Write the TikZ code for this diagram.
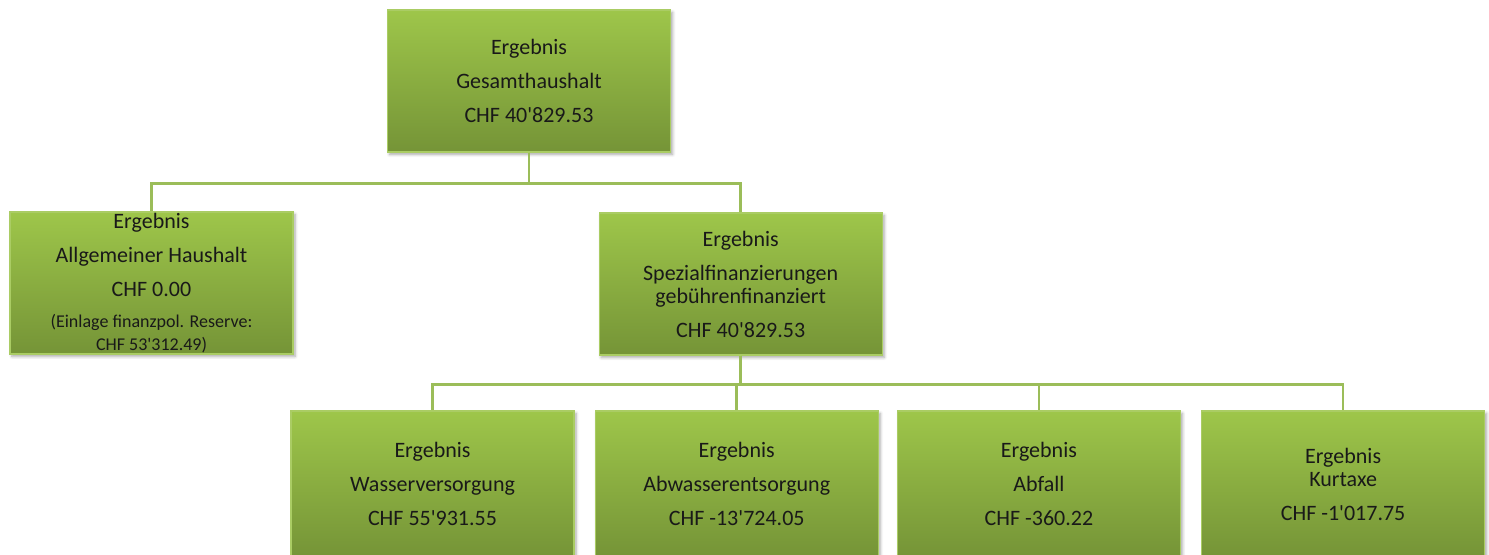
\documentclass[tikz,border=0pt]{standalone}
\usepackage{fontspec}
\setmainfont{Carlito}[Ligatures=TeXOff]
\usetikzlibrary{positioning, shadows.blur, calc}
\definecolor{boxTop}{RGB}{158, 198, 74}
\definecolor{boxBottom}{RGB}{117, 148, 55}
\definecolor{boxEdge}{RGB}{170, 204, 100}
\definecolor{linkGreen}{RGB}{155, 189, 89}
\definecolor{textDark}{RGB}{25, 25, 25}
\tikzset{
    % Base style for all result boxes
    result/.style={
        rectangle,
        minimum width=141.5pt,
        minimum height=71pt,
        inner sep=0pt,
        align=center,
        font=\fontsize{11pt}{11.5pt}\selectfont,
        text=textDark,
        top color=boxTop,
        bottom color=boxBottom,
        draw=boxEdge,
        line width=0.6pt,
        blur shadow={shadow blur steps=5, shadow xshift=1pt, shadow yshift=-1.2pt, shadow blur radius=1.5pt, shadow opacity=35}
    },
    % Bottom row runs off the page
    resultLow/.style={result, minimum height=73pt},
    % Connector style
    link/.style={draw=linkGreen, line width=1.3pt}
}
\newcommand{\smalltext}{\fontsize{9pt}{8.2pt}\selectfont}

\begin{document}
\begin{tikzpicture}[x=0.5pt, y=-0.5pt]

    \useasboundingbox (0,0) rectangle (1489,554);
    \clip (0,0) rectangle (1489,554);

    % --- TOP LEVEL ---
    \node (gesamt) [result] at (529,81) {
        Ergebnis \\[5.5pt]
        Gesamthaushalt \\[5.5pt]
        CHF 40'829.53
    };

    % --- SECOND LEVEL ---
    \node (allg) [result] at (151.5,283) {
        Ergebnis \\[5.5pt]
        Allgemeiner Haushalt \\[5.5pt]
        CHF 0.00 \\[4pt]
        {\smalltext (Einlage finanzpol. Reserve:} \\
        {\smalltext CHF 53'312.49)}
    };

    \node (spez) [result, right=152.5pt of allg.east, anchor=west, yshift=-0.5pt] {
        Ergebnis \\[5.5pt]
        Spezialfinanzierungen \\
        gebührenfinanziert \\[5.5pt]
        CHF 40'829.53
    };

    % --- THIRD LEVEL ---
    \node (wasser) [resultLow] at (432.5,484) {
        Ergebnis \\[5.5pt]
        Wasserversorgung \\[5.5pt]
        CHF 55'931.55
    };

    \node (abwasser) [resultLow, right=10pt of wasser] {
        Ergebnis \\[5.5pt]
        Abwasserentsorgung \\[5.5pt]
        CHF -13'724.05
    };

    \node (abfall) [resultLow, right=9pt of abwasser] {
        Ergebnis \\[5.5pt]
        Abfall \\[5.5pt]
        CHF -360.22
    };

    \node (kurtaxe) [resultLow, right=10pt of abfall] {
        Ergebnis \\
        Kurtaxe \\[5.5pt]
        CHF -1'017.75
    };

    % --- Connectors ---
    \coordinate (busTop) at ($(gesamt.south)+(0,31)$);
    \coordinate (busLow) at ($(spez.south)+(0,29)$);

    \foreach \n in {allg, spez}
        \draw [link] (gesamt.south) |- (\n.north |- busTop) -- (\n.north);
    \foreach \n in {wasser, abwasser, abfall, kurtaxe}
        \draw [link] (spez.south) |- (\n.north |- busLow) -- (\n.north);

\end{tikzpicture}
\end{document}
